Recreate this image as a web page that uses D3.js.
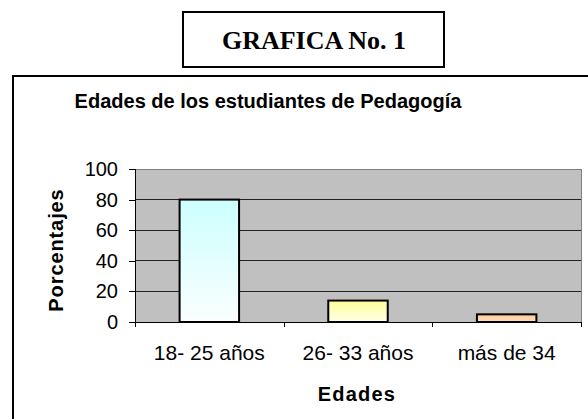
<!DOCTYPE html>
<html lang="es">
<head>
<meta charset="UTF-8" />
<title>GRAFICA No. 1</title>
<script src="https://d3js.org/d3.v7.min.js"></script>
<style>
  html, body { margin: 0; padding: 0; background: #fff; overflow: hidden; }
  svg { display: block; }
  .sans { font-family: Arial, 'Liberation Sans', sans-serif; fill: #000; }
  .axis path, .axis line { stroke: #000; shape-rendering: crispEdges; }
  .axis text { font-family: Arial, 'Liberation Sans', sans-serif; font-size: 20px; fill: #000; }
</style>
</head>
<body>
<svg width="588" height="419"></svg>
<script>
// data
const categories = ["18- 25 años", "26- 33 años", "más de 34"];
const values = [80, 14, 5];
const yTicks = [0, 20, 40, 60, 80, 100];

// bar fills: top colour -> bottom colour
const barTop = ["#ccffff", "#ffff99", "#ffcc99"];
const barBottom = ["#fafffe", "#ffffe6", "#ffdcb8"];

const svg = d3.select("svg");

// figure caption box
svg.append("rect")
  .attr("x", 183).attr("y", 12).attr("width", 261).attr("height", 55)
  .attr("fill", "none").attr("stroke", "#000").attr("stroke-width", 2);
svg.append("text")
  .attr("x", 314).attr("y", 49)
  .attr("text-anchor", "middle")
  .style("font-family", "'Times New Roman', 'Liberation Serif', serif")
  .style("font-weight", "bold").style("font-size", "26px")
  .text("GRAFICA No. 1");

// chart area frame (runs off the right/bottom edges)
svg.append("rect")
  .attr("x", 13).attr("y", 76).attr("width", 600).attr("height", 360)
  .attr("fill", "#fff").attr("stroke", "#000").attr("stroke-width", 2);

svg.append("text")
  .attr("class", "sans")
  .attr("x", 268).attr("y", 108)
  .attr("text-anchor", "middle")
  .style("font-weight", "bold").style("font-size", "20px")
  .text("Edades de los estudiantes de Pedagogía");

const plot = { left: 135, right: 581, top: 169, bottom: 322 };

const x = d3.scaleBand()
  .domain(categories)
  .range([plot.left, plot.right])
  .paddingInner(0.6)
  .paddingOuter(0.3);

const y = d3.scaleLinear()
  .domain([0, 100])
  .range([plot.bottom, plot.top]);

// gradients for the bars
const defs = svg.append("defs");
barTop.forEach((c, i) => {
  const g = defs.append("linearGradient")
    .attr("id", "grad" + i)
    .attr("x1", 0).attr("y1", 0).attr("x2", 0).attr("y2", 1);
  g.append("stop").attr("offset", "0%").attr("stop-color", c);
  g.append("stop").attr("offset", "100%").attr("stop-color", barBottom[i]);
});

// plot background
svg.append("rect")
  .attr("x", plot.left).attr("y", plot.top)
  .attr("width", plot.right - plot.left).attr("height", plot.bottom - plot.top)
  .attr("fill", "#c0c0c0")
  .attr("stroke", "#808080").attr("stroke-width", 1)
  .attr("shape-rendering", "crispEdges");

// gridlines
svg.append("g")
  .selectAll("line")
  .data(yTicks.filter(t => t > 0 && t < 100))
  .join("line")
  .attr("x1", plot.left).attr("x2", plot.right)
  .attr("y1", d => y(d)).attr("y2", d => y(d))
  .attr("stroke", "#222").attr("stroke-width", 1)
  .attr("shape-rendering", "crispEdges");

// bars
svg.append("g")
  .selectAll("rect")
  .data(values)
  .join("rect")
  .attr("x", (d, i) => x(categories[i]))
  .attr("y", d => y(d))
  .attr("width", x.bandwidth())
  .attr("height", d => y(0) - y(d))
  .attr("fill", (d, i) => `url(#grad${i})`)
  .attr("stroke", "#000").attr("stroke-width", 2);

// y axis
svg.append("g")
  .attr("class", "axis")
  .attr("transform", `translate(${plot.left},0)`)
  .call(d3.axisLeft(y).tickValues(yTicks).tickSize(6).tickPadding(11))
  .call(g => g.select(".domain").attr("d", `M0,${plot.top}V${plot.bottom}`));

// x axis: ticks between categories
const xb = d3.scaleLinear().domain([0, categories.length]).range([plot.left, plot.right]);
svg.append("g")
  .attr("class", "axis")
  .attr("transform", `translate(0,${plot.bottom})`)
  .call(d3.axisBottom(xb).tickValues(d3.range(categories.length + 1)).tickSize(5).tickFormat(""))
  .call(g => g.select(".domain").attr("d", `M${plot.left},0H${plot.right}`));

// category labels
svg.append("g")
  .selectAll("text")
  .data(categories)
  .join("text")
  .attr("class", "sans")
  .attr("x", d => x(d) + x.bandwidth() / 2)
  .attr("y", 360)
  .attr("text-anchor", "middle")
  .style("font-size", "21px")
  .text(d => d);

// axis titles
svg.append("text")
  .attr("class", "sans")
  .attr("x", 357).attr("y", 401)
  .attr("text-anchor", "middle")
  .style("font-weight", "bold").style("font-size", "20px")
  .style("letter-spacing", "1.2px")
  .text("Edades");

svg.append("text")
  .attr("class", "sans")
  .attr("transform", "translate(63,250) rotate(-90)")
  .attr("text-anchor", "middle")
  .style("font-weight", "bold").style("font-size", "20px")
  .style("letter-spacing", "0.9px")
  .text("Porcentajes");
</script>
</body>
</html>
